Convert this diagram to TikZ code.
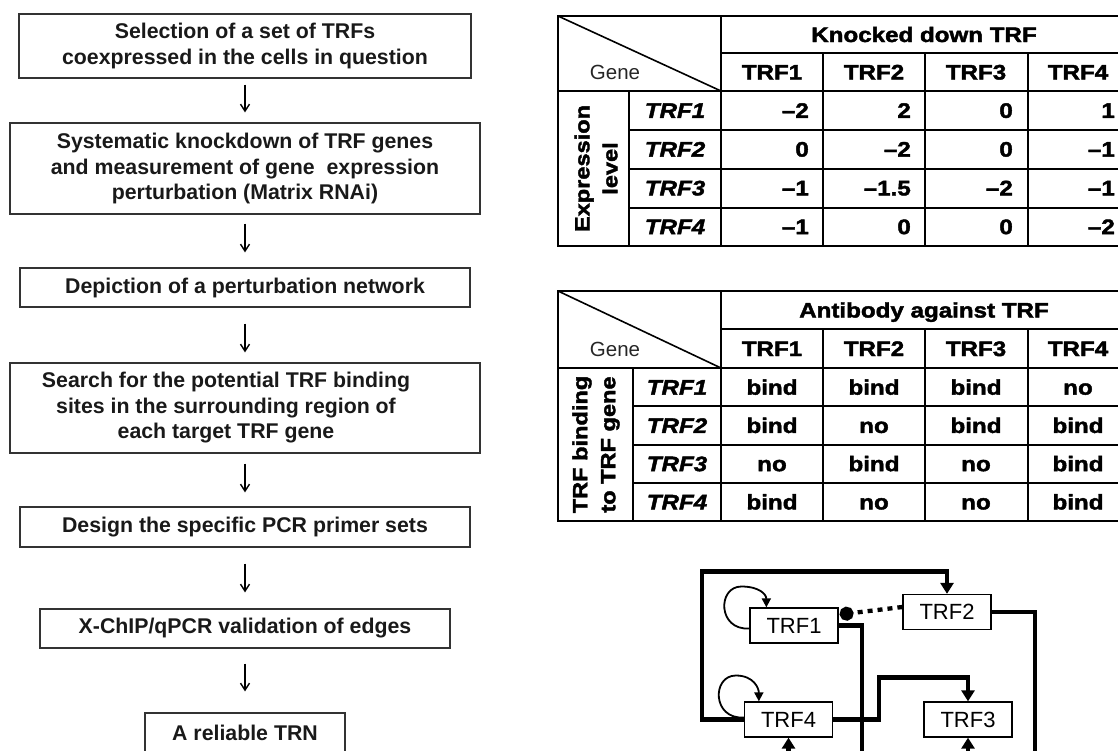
\documentclass[tikz,border=0pt]{standalone}
\usepackage{fontspec}
\setmainfont{Liberation Sans}
\newfontfamily\heavyfont[FakeStretch=1.15, BoldFeatures={FakeBold=2}, BoldItalicFeatures={FakeBold=2}]{Liberation Sans}
\usepackage{tikz}
\usetikzlibrary{arrows.meta, calc}

\begin{document}
\begin{tikzpicture}[x=1pt, y=1pt,
    stepbox/.style={draw=black!80, line width=1.2pt, inner sep=0pt},
    steptext/.style={align=center, text=black!90, font=\fontsize{21.3}{25.5}\selectfont\bfseries},
    flowarrow/.style={-{Straight Barb[length=7pt,width=9pt]}, line width=1.4pt},
    tabline/.style={line width=1.6pt},
    headtext/.style={inner sep=0pt, text height=15pt, text depth=0pt, font=\heavyfont\bfseries\fontsize{21}{24}\selectfont},
    rowtext/.style={headtext, font=\heavyfont\bfseries\itshape\fontsize{21}{24}\selectfont},
    sidetext/.style={inner sep=0pt, align=center, rotate=90, font=\heavyfont\bfseries\fontsize{20.5}{28}\selectfont},
    genetext/.style={inner sep=0pt, text=black!85, font=\fontsize{20.5}{24}\selectfont},
    genebox/.style={draw, line width=1.3pt, minimum width=88pt, minimum height=35pt, inner sep=0pt, font=\fontsize{22}{24}\selectfont},
    link/.style={line width=4.3pt},
    linkarrow/.style={link, -{Triangle[length=11pt,width=13pt]}},
    dotlink/.style={link, dash pattern=on 5pt off 5pt, -{Circle[length=14pt]}},
    selfloop/.style={line width=1.8pt, -{Triangle[length=9pt,width=9pt]}}]
    \useasboundingbox (0,0) rectangle (1118,-750);
    \clip (0,0) rectangle (1118,-750);

    % flow of the procedure
    \node[stepbox, steptext, minimum width=452pt, minimum height=64pt] (b1) at (245,-46) {Selection of a set of TRFs\\coexpressed in the cells in question};
    \node[stepbox, steptext, minimum width=470pt, minimum height=91pt] (b2) at (245,-168.5) {Systematic knockdown of TRF genes\\and measurement of gene\ \ expression\\perturbation (Matrix RNAi)};
    \node[stepbox, steptext, minimum width=450pt, minimum height=39pt] (b3) at (245,-287.5) {Depiction of a perturbation network};
    \node[stepbox, minimum width=470pt, minimum height=90pt] (b4) at (245,-408) {};
    \node[steptext] (b4text) at ([xshift=-19pt]b4.center) {Search for the potential TRF binding\\sites in the surrounding region of\\each target TRF gene};
    \node[stepbox, steptext, minimum width=450pt, minimum height=40pt] (b5) at (245,-527) {Design the specific PCR primer sets};
    \node[stepbox, steptext, minimum width=410pt, minimum height=39pt] (b6) at (245,-628.5) {X-ChIP/qPCR validation of edges};
    \node[stepbox, steptext, minimum width=200pt, minimum height=40pt] (b7) at (245,-733) {A reliable TRN};
    \foreach \a/\b/\s/\e in {b1/b2/6/10, b2/b3/9/15, b3/b4/16/10, b4/b5/10/14, b5/b6/16/16, b6/b7/15/21}
        \draw[flowarrow, shorten <=\s pt, shorten >=\e pt] (\a) -- (\b);

    % knockdown table
    \draw[tabline] (558,-16) rectangle (1127,-246);
    \draw[tabline] (558,-16) -- (721,-91);
    \draw[tabline] (721,-16) -- (721,-246);
    \draw[tabline] (721,-53) -- (1127,-53);
    \draw[tabline] (558,-91) -- (1127,-91);
    \draw[tabline] (629,-91) -- (629,-246);
    \foreach \y in {130,169,208} \draw[tabline] (629,-\y) -- (1127,-\y);
    \foreach \x in {823,925,1028} \draw[tabline] (\x,-53) -- (\x,-246);
    \node[headtext] at (924,-34.5) {Knocked down TRF};
    \node[genetext] at (615,-72.5) {Gene};
    \node[sidetext] at (596,-168.5) {Expression\\level};
    \foreach \i in {1,...,4} {
        \node[headtext] at ({670+102*\i},-72) {TRF\i};
        \node[rowtext] at (675,{-71.6-38.75*\i}) {TRF\i};
    }
    \foreach \row [count=\i] in {{–2,2,0,1},{0,–2,0,–1},{–1,–1.5,–2,–1},{–1,0,0,–2}}
        \foreach \v [count=\j] in \row
            \node[headtext, anchor=east] at ({707+102*\j},{-71.6-38.75*\i}) {\v};

    % binding table
    \draw[tabline] (558,-291) rectangle (1127,-521);
    \draw[tabline] (558,-291) -- (721,-368);
    \draw[tabline] (721,-291) -- (721,-521);
    \draw[tabline] (721,-329) -- (1127,-329);
    \draw[tabline] (558,-368) -- (1127,-368);
    \draw[tabline] (633,-368) -- (633,-521);
    \foreach \y in {406,445,483} \draw[tabline] (633,-\y) -- (1127,-\y);
    \foreach \x in {823,925,1028} \draw[tabline] (\x,-329) -- (\x,-521);
    \node[headtext] at (924,-310) {Antibody against TRF};
    \node[genetext] at (615,-349) {Gene};
    \node[sidetext] at (596,-444.5) {TRF binding\\to TRF gene};
    \foreach \i in {1,...,4} {
        \node[headtext] at ({670+102*\i},-348.5) {TRF\i};
        \node[rowtext] at (677,{-348.9-38.25*\i}) {TRF\i};
    }
    \foreach \row [count=\i] in {{bind,bind,bind,no},{bind,no,bind,bind},{no,bind,no,bind},{bind,no,no,bind}}
        \foreach \v [count=\j] in \row
            \node[headtext] at ({670+102*\j},{-348.9-38.25*\i}) {\v};

    % network
    \node[genebox] (t1) at (794,-625.5) {TRF1};
    \node[genebox] (t2) at (947,-612) {TRF2};
    \node[genebox] (t4) at (788.5,-719.5) {TRF4};
    \node[genebox] (t3) at (968,-719.5) {TRF3};
    \coordinate (t1out) at (862,-770);
    \coordinate (t2out) at (1035,-770);
    \coordinate (t4in) at (788.5,-780);
    \coordinate (t3in) at (968,-780);
    \draw[linkarrow] (t4.west) -| ++(-42,148) -| (t2.north);
    \draw[linkarrow] (t4.east) -| ++(46,42) -| (t3.north);
    \draw[link] (t1.east) -| (t1out);
    \draw[link] (t2.east) -| (t2out);
    \draw[linkarrow] (t4in) -- (t4.south);
    \draw[linkarrow] (t3in) -- (t3.south);
    \draw[dotlink] ([yshift=5pt]t2.west) -- ([shift={(1pt,11pt)}]t1.east);
    \draw[selfloop] ([yshift=-3pt]t1.west) .. controls +(-32,-2) and +(-24,0) .. ++(-8,42) .. controls +(18,0) and +(0,13) .. ([xshift=17pt]t1.north west);
    \draw[selfloop] ([yshift=2pt]t4.west) .. controls +(-32,-2) and +(-24,0) .. ++(-8,42) .. controls +(18,0) and +(0,13) .. ([xshift=15pt]t4.north west);
\end{tikzpicture}
\end{document}
